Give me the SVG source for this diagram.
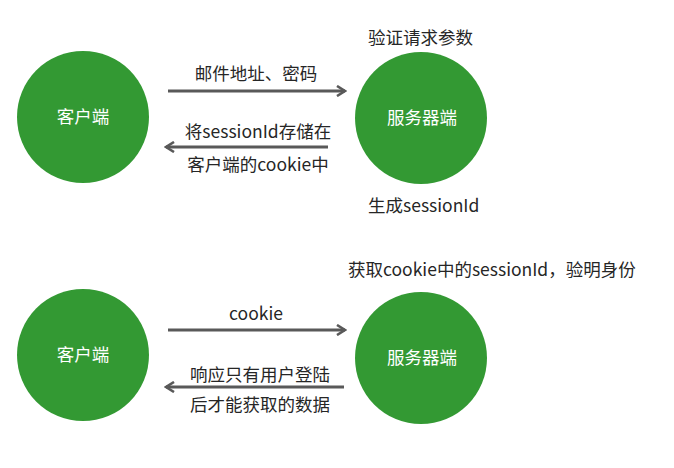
<svg xmlns="http://www.w3.org/2000/svg" width="674" height="468" viewBox="0 0 674 468">
<defs>
<marker id="ah" viewBox="0 0 12 12" refX="10" refY="6" markerWidth="12" markerHeight="12" markerUnits="userSpaceOnUse" orient="auto">
<path d="M2,1 L10,6 L2,11" fill="none" stroke="#595959" stroke-width="2.6"/>
</marker>
<style>
.node{fill:#339933}
.nt{fill:#fff;font-family:"Noto Sans CJK SC","Microsoft YaHei",sans-serif;font-size:17.5px;text-anchor:middle}
.lb{fill:#262626;font-family:"Noto Sans CJK SC","Microsoft YaHei",sans-serif;font-size:17.5px}
.c{text-anchor:middle}
.ar{stroke:#595959;stroke-width:3;fill:none;marker-end:url(#ah)}
</style>
</defs>
<rect width="674" height="468" fill="#fff"/>
<g id="client1"><circle class="node" cx="83" cy="117" r="66"/><text class="nt" x="83" y="123">客户端</text></g>
<g id="server1"><circle class="node" cx="421" cy="118" r="66"/><text class="nt" x="422" y="124">服务器端</text></g>
<g id="client2"><circle class="node" cx="83" cy="355" r="66"/><text class="nt" x="83" y="361">客户端</text></g>
<g id="server2"><circle class="node" cx="421" cy="358" r="66"/><text class="nt" x="422" y="364">服务器端</text></g>
<g id="connectors">
<line class="ar" x1="168" y1="91" x2="345" y2="91"/>
<line class="ar" x1="328" y1="147" x2="166" y2="147"/>
<line class="ar" x1="168" y1="330" x2="345" y2="330"/>
<line class="ar" x1="344" y1="387" x2="166" y2="387"/>
</g>
<g id="labels">
<text class="lb c" x="256" y="80">邮件地址、密码</text>
<text class="lb c" x="258" y="138">将sessionId存储在</text>
<text class="lb c" x="258" y="171">客户端的cookie中</text>
<text class="lb" x="368" y="44">验证请求参数</text>
<text class="lb" x="368" y="212">生成sessionId</text>
<text class="lb" x="348" y="276">获取cookie中的sessionId，验明身份</text>
<text class="lb c" x="256" y="320">cookie</text>
<text class="lb c" x="260" y="381">响应只有用户登陆</text>
<text class="lb c" x="260" y="411">后才能获取的数据</text>
</g>
</svg>
